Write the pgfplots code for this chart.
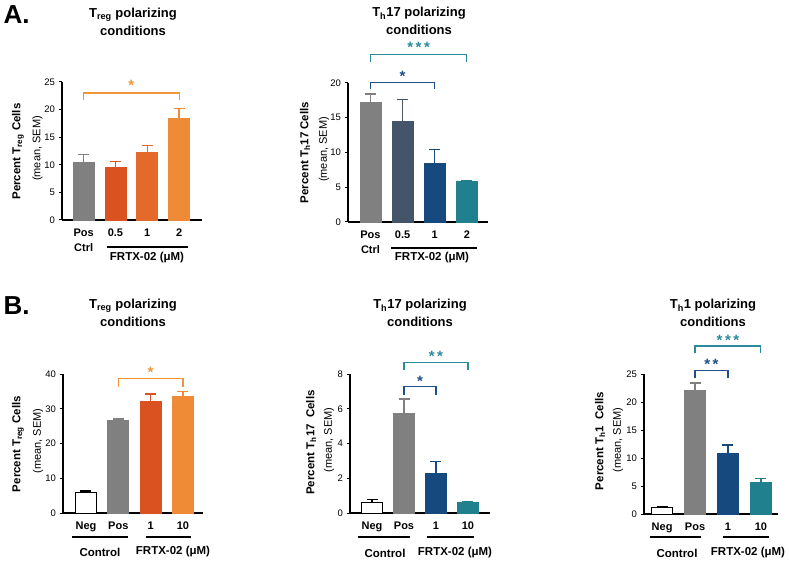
\documentclass[border=0pt]{standalone}
\usepackage{pgfplots}
\pgfplotsset{compat=1.18}
\usepackage{fontspec}
\setmainfont{Liberation Sans}

\definecolor{cgray}{HTML}{808080}
\definecolor{or1}{HTML}{D95220}
\definecolor{or2}{HTML}{E46A2C}
\definecolor{or3}{HTML}{EF8B36}
\definecolor{orS}{HTML}{F0953A}
\definecolor{sl}{HTML}{44546A}
\definecolor{nv}{HTML}{164A7E}
\definecolor{tl}{HTML}{21808E}
\definecolor{blS}{HTML}{1F4E8C}
\definecolor{tlS}{HTML}{2A8C9B}

% fill, draw, x, y, err
\newcommand{\onebar}[5]{\addplot[ybar, bar width=21pt, bar shift=0pt, fill=#1, draw=#2, line width=0.8pt,
  error bars/.cd, y dir=plus, y explicit,
  error bar style={draw=#2, line width=1.5pt},
  error mark options={draw=#2, line width=1.5pt, mark size=5.5pt, rotate=90}]
  coordinates {(#3,#4) +- (0,#5)};}
% color, x1, x2, xmid, ytop, yleg, ystar, stars
\newcommand{\bracket}[8]{%
  \draw[#1, line width=1.1pt] (axis cs:#2,#6) -- (axis cs:#2,#5) -- (axis cs:#3,#5) -- (axis cs:#3,#6);
  \node[#1, font=\fontsize{15}{15}\selectfont\bfseries, yshift=-3pt] at (axis cs:#4,#7) {#8};}
\newcommand{\starsC}{*\hspace{2.5pt}*\hspace{2.5pt}*}
\newcommand{\starsB}{*\hspace{2.5pt}*}

\pgfplotsset{panel/.style={
  scale only axis, clip=false,
  axis x line*=bottom, axis y line*=left,
  axis line style={line width=1.2pt, black},
  ymin=0,
  xtick={0,1,2,3},
  xtick style={draw=none},
  ytick style={line width=1pt, black},
  tick align=outside, major tick length=3.5pt,
  /pgf/number format/assume math mode=true,
  y tick label style={font=\fontsize{9.5}{11}\selectfont},
  x tick label style={font=\fontsize{11}{13}\selectfont\bfseries, align=center, yshift=-2pt},
}}

\begin{document}
\begin{tikzpicture}[x=1pt,y=1pt]
\path[use as bounding box] (0,0) rectangle (789,560);

% ---------------- A1 Treg
\begin{axis}[panel, at={(62pt,340pt)}, anchor=south west, width=140pt, height=138pt,
  xmin=-0.68, xmax=3.72, ymax=25, ytick={0,5,10,15,20,25},
  xticklabels={{Pos\\[2pt]Ctrl},0.5,1,2}]
\onebar{cgray}{cgray}{0}{10.5}{1.4}
\onebar{or1}{or1}{1}{9.5}{1.1}
\onebar{or2}{or2}{2}{12.2}{1.3}
\onebar{or3}{or3}{3}{18.4}{1.8}
\bracket{orS}{0}{3}{1.5}{23.0}{21.7}{25.0}{*}
\end{axis}

% ---------------- A2 Th17
\begin{axis}[panel, at={(348pt,338pt)}, anchor=south west, width=140pt, height=139pt,
  xmin=-0.70, xmax=3.66, ymax=20, ytick={0,5,10,15,20},
  xticklabels={{Pos\\[2pt]Ctrl},0.5,1,2}]
\onebar{cgray}{cgray}{0}{17.2}{1.2}
\onebar{sl}{sl}{1}{14.5}{3.15}
\onebar{nv}{nv}{2}{8.5}{1.95}
\onebar{tl}{tl}{3}{5.85}{0.12}
\bracket{blS}{0}{2}{1}{20.1}{19.2}{21.4}{*}
\bracket{tlS}{0}{3}{1.5}{24.1}{23.0}{25.5}{\starsC}
\end{axis}

% ---------------- B1 Treg
\begin{axis}[panel, at={(63pt,47pt)}, anchor=south west, width=140pt, height=139pt,
  xmin=-0.71, xmax=3.62, ymax=40, ytick={0,10,20,30,40},
  xticklabels={Neg,Pos,1,10}]
\onebar{white}{black}{0}{6.0}{0.4}
\onebar{cgray}{cgray}{1}{26.7}{0.3}
\onebar{or1}{or1}{2}{32.1}{2.1}
\onebar{or3}{or3}{3}{33.6}{1.4}
\bracket{orS}{1}{3}{2}{38.6}{36.3}{41.2}{*}
\end{axis}

% ---------------- B2 Th17
\begin{axis}[panel, at={(350pt,47pt)}, anchor=south west, width=140pt, height=139pt,
  xmin=-0.69, xmax=3.69, ymax=8, ytick={0,2,4,6,8},
  xticklabels={Neg,Pos,1,10}]
\onebar{white}{black}{0}{0.63}{0.14}
\onebar{cgray}{cgray}{1}{5.76}{0.8}
\onebar{nv}{nv}{2}{2.3}{0.67}
\onebar{tl}{tl}{3}{0.63}{0.04}
\bracket{blS}{1}{2}{1.5}{7.3}{6.81}{7.77}{*}
\bracket{tlS}{1}{3}{2}{8.64}{8.21}{9.17}{\starsB}
\end{axis}

% ---------------- B3 Th1
\begin{axis}[panel, at={(644pt,46pt)}, anchor=south west, width=134pt, height=140pt,
  xmin=-0.55, xmax=3.52, ymax=25, ytick={0,5,10,15,20,25},
  xticklabels={Neg,Pos,1,10}]
\onebar{white}{black}{0}{1.1}{0.2}
\onebar{cgray}{cgray}{1}{22.0}{1.4}
\onebar{nv}{nv}{2}{10.9}{1.4}
\onebar{tl}{tl}{3}{5.7}{0.6}
\bracket{blS}{1}{2}{1.5}{25.6}{24.3}{27.3}{\starsB}
\bracket{tlS}{1}{3}{2}{30.0}{28.7}{31.6}{\starsC}
\end{axis}

% ---------------- text
\tikzset{ttl/.style={font=\fontsize{13}{18}\selectfont\bfseries, align=center},
  yl/.style={rotate=90, font=\fontsize{11.5}{13}\selectfont\bfseries},
  ys/.style={rotate=90, font=\fontsize{11}{12}\selectfont},
  grp/.style={font=\fontsize{11.5}{13}\selectfont\bfseries}}

\node[font=\fontsize{26}{26}\selectfont\bfseries, anchor=west] at (0,545) {A.};
\node[font=\fontsize{26}{26}\selectfont\bfseries, anchor=west] at (0,254) {B.};

\node[ttl] at (133,538) {T\textsubscript{reg} polarizing\\conditions};
\node[ttl] at (419,539) {T\textsubscript{h}17 polarizing\\conditions};
\node[ttl] at (133,247) {T\textsubscript{reg} polarizing\\conditions};
\node[ttl] at (420,247) {T\textsubscript{h}17 polarizing\\conditions};
\node[ttl] at (713,247) {T\textsubscript{h}1 polarizing\\conditions};

\node[yl] at (18,408.5) {Percent T\textsubscript{reg} Cells};
\node[ys] at (37.5,411.5) {(mean, SEM)};
\node[yl] at (305,407.5) {Percent T\textsubscript{h}17 Cells};
\node[ys] at (324,410.5) {(mean, SEM)};
\node[yl] at (18,116) {Percent T\textsubscript{reg} Cells};
\node[ys] at (38,119) {(mean, SEM)};
\node[yl] at (311,117.5) {Percent T\textsubscript{h}17 \ Cells};
\node[ys] at (329,120) {(mean, SEM)};
\node[yl] at (600,119) {Percent T\textsubscript{h}1 \ Cells};
\node[ys] at (618,120) {(mean, SEM)};

% group underlines and labels
\draw[line width=1.5pt] (107,313) -- (188,313);
\node[grp] at (147,302) {FRTX-02 (μM)};
\draw[line width=1.5pt] (391,312) -- (477,312);
\node[grp] at (432,302) {FRTX-02 (μM)};

\draw[line width=1.5pt] (72,23) -- (128,23);
\draw[line width=1.5pt] (146,23) -- (191,23);
\node[grp] at (100,8) {Control};
\node[grp] at (173,8) {FRTX-02 (μM)};

\draw[line width=1.5pt] (358,23) -- (410,23);
\draw[line width=1.5pt] (427,23) -- (474,23);
\node[grp] at (385,7) {Control};
\node[grp] at (455,7) {FRTX-02 (μM)};

\draw[line width=1.5pt] (650,23) -- (701,23);
\draw[line width=1.5pt] (723,23) -- (769,23);
\node[grp] at (677,7) {Control};
\node[grp] at (748,7) {FRTX-02 (μM)};
\end{tikzpicture}
\end{document}
